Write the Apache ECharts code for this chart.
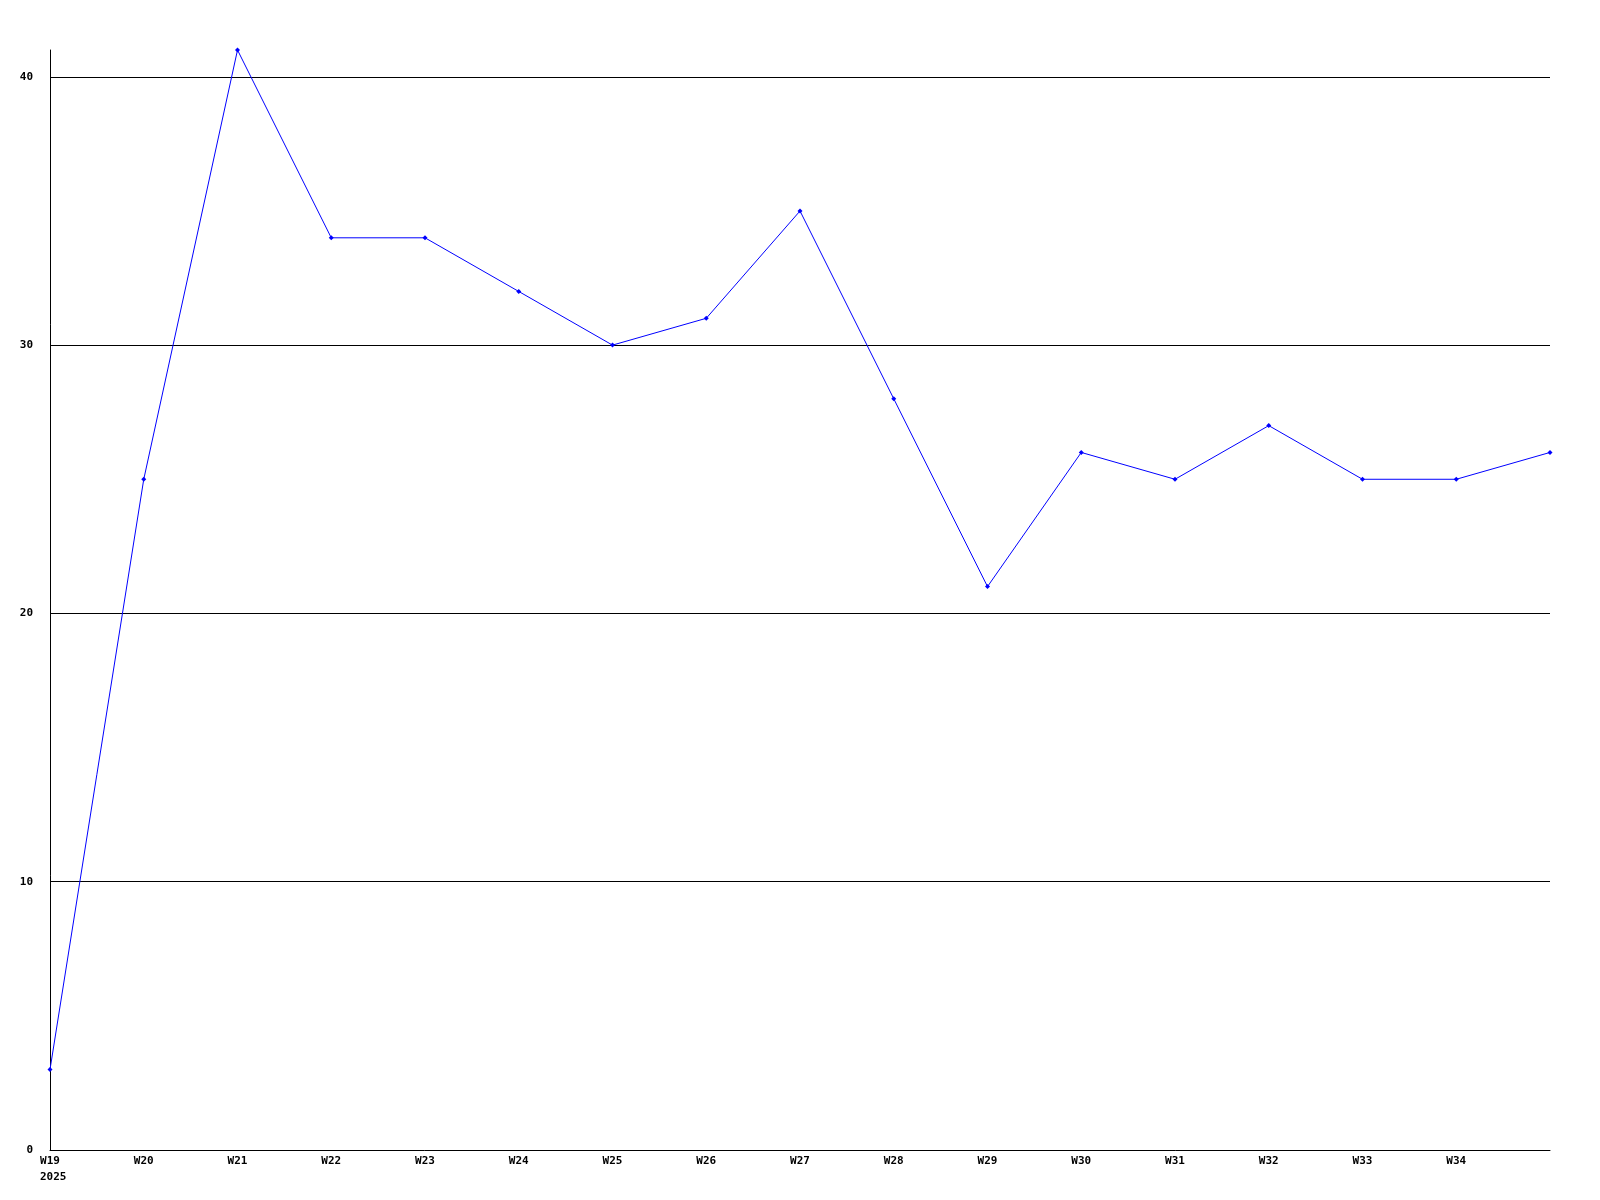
<!DOCTYPE html>
<html>
<head>
<meta charset="utf-8">
<script src="https://cdn.jsdelivr.net/npm/echarts@6/dist/echarts.min.js"></script>
<style>html,body{margin:0;padding:0;background:#fff;}#c{width:1600px;height:1200px;}</style>
</head>
<body>
<div id="c"></div>
<script>
const weeks = ['W19','W20','W21','W22','W23','W24','W25','W26','W27','W28','W29','W30','W31','W32','W33','W34','W35'];
const values = [3,25,41,34,34,32,30,31,35,28,21,26,25,27,25,25,26];
const yTicks = [0,10,20,30,40];
const yearLabel = '2025';
const yMax = 41;

const chart = echarts.init(document.getElementById('c'), null, {renderer:'canvas'});
const font = {fontFamily:'DejaVu Sans Mono', fontWeight:'bold', fontSize:11, color:'#000'};
chart.setOption({
  animation:false,
  backgroundColor:'#fff',
  grid:{left:50, right:50, top:50, bottom:50, containLabel:false},
  xAxis:{
    type:'category', data:weeks, boundaryGap:false,
    axisLine:{show:true, lineStyle:{color:'#000', width:1}},
    axisTick:{show:false},
    splitLine:{show:false},
    axisLabel:Object.assign({interval:0, margin:6, formatter:(v,i)=> i===weeks.length-1 ? '' : v}, font)
  },
  yAxis:{
    type:'value', min:0, max:yMax,
    axisLine:{show:true, lineStyle:{color:'#000', width:1}},
    axisTick:{show:false},
    splitLine:{show:false},
    axisLabel:Object.assign({margin:17, customValues:yTicks}, font)
  },
  graphic:[{type:'text', left:40, top:1172, style:Object.assign({text:yearLabel, fill:'#000'}, {font:'bold 11px "DejaVu Sans Mono"'})}],
  series:[{
    type:'line', data:values,
    symbol:'diamond', symbolSize:5,
    itemStyle:{color:'#0000ff'},
    lineStyle:{color:'#0000ff', width:1},
    z:3,
    markLine:{
      silent:true, symbol:'none', label:{show:false},
      lineStyle:{color:'#000', width:1, type:'solid'},
      data:yTicks.filter(t=>t>0).map(t=>({yAxis:t})),
      z:1
    }
  }]
});
</script>
</body>
</html>
